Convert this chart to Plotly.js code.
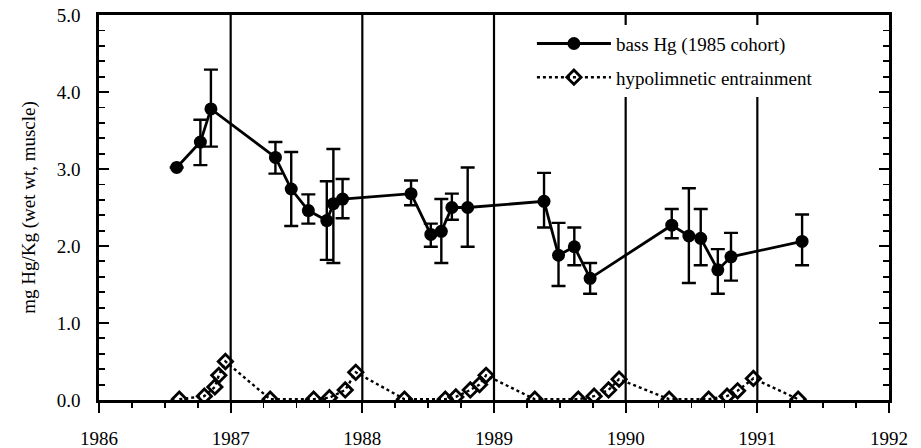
<!DOCTYPE html>
<html>
<head>
<meta charset="utf-8">
<script src="https://cdn.plot.ly/plotly-3.0.1.min.js"></script>
<style>html,body{margin:0;padding:0;background:#fff;}#chart{width:921px;height:448px;}</style>
</head>
<body>
<div id="chart"></div>
<script>
// Bass Hg (1985 cohort)
const bassYear = [1986.59,1986.77,1986.85,1987.34,1987.46,1987.59,1987.73,1987.78,1987.85,
  1988.37,1988.52,1988.60,1988.68,1988.80,1989.38,1989.49,1989.61,1989.73,
  1990.35,1990.48,1990.57,1990.70,1990.80,1991.34];
const bassHg = [3.02,3.35,3.78,3.15,2.74,2.46,2.33,2.55,2.61,
  2.68,2.15,2.19,2.50,2.50,2.58,1.88,1.99,1.58,
  2.27,2.13,2.10,1.69,1.86,2.06];
const bassErrPlus = [0,0.29,0.51,0.20,0.48,0.21,0.51,0.71,0.26,
  0.17,0.14,0.42,0.18,0.52,0.37,0.42,0.25,0.20,
  0.21,0.62,0.38,0.27,0.31,0.35];
const bassErrMinus = [0,0.30,0.49,0.21,0.48,0.17,0.51,0.77,0.25,
  0.15,0.16,0.41,0.16,0.51,0.34,0.40,0.24,0.20,
  0.17,0.61,0.35,0.31,0.31,0.31];

// Hypolimnetic entrainment
const hypoYear = [1986.61,1986.80,1986.88,1986.91,1986.96,1987.30,
  1987.63,1987.75,1987.87,1987.95,1988.32,
  1988.63,1988.71,1988.82,1988.89,1988.94,1989.31,
  1989.64,1989.76,1989.87,1989.95,1990.33,
  1990.63,1990.77,1990.85,1990.97,1991.31];
const hypoVal = [0.01,0.05,0.17,0.32,0.50,0.01,
  0.01,0.03,0.13,0.36,0.01,
  0.01,0.04,0.13,0.20,0.32,0.01,
  0.01,0.05,0.13,0.27,0.01,
  0.01,0.05,0.12,0.28,0.01];

const yearLines = [1987,1988,1989,1990,1991];
const xTickVals = [1986,1987,1988,1989,1990,1991,1992];
const yTickVals = [0,1,2,3,4,5];

const font = "Liberation Serif, Times New Roman, serif";

const traces = [
  {
    x: bassYear, y: bassHg, name: 'bass Hg (1985 cohort)', legendgroup: 'a',
    type: 'scatter', mode: 'lines+markers',
    line: {color: '#000', width: 2.8},
    marker: {symbol: 'circle', size: 13, color: '#000'},
    error_y: {type: 'data', symmetric: false, array: bassErrPlus, arrayminus: bassErrMinus,
      color: '#000', thickness: 2.4, width: 7}
  },
  {
    x: hypoYear, y: hypoVal, name: 'hypolimnetic entrainment', legendgroup: 'b',
    type: 'scatter', mode: 'lines+markers',
    line: {color: '#000', width: 2.4, dash: 'dot'},
    marker: {symbol: 'diamond-open', size: 11, color: '#000', line: {width: 2.8, color: '#000'}}
  }
];

const shapes = yearLines.map(yr => ({
  type: 'line', xref: 'x', yref: 'y', x0: yr, x1: yr, y0: 0, y1: 5,
  line: {color: '#000', width: 2.2}, layer: 'below'
}));

const layout = {
  width: 921, height: 448,
  margin: {l: 99, r: 32, t: 15, b: 48},
  paper_bgcolor: '#fff', plot_bgcolor: '#fff',
  font: {family: font, color: '#000', size: 19},
  showlegend: true,
  legend: {x: 0.548, y: 0.975, xanchor: 'left', yanchor: 'top',
    bgcolor: '#fff', font: {family: font, size: 19, color: '#000'},
    itemwidth: 74, tracegroupgap: 6},
  xaxis: {
    range: [1986, 1992], tickvals: xTickVals, ticktext: xTickVals.map(String),
    showgrid: false, zeroline: false, showline: true, linecolor: '#000', linewidth: 2.8,
    mirror: true, ticks: 'outside', ticklen: 10, tickwidth: 2, tickcolor: '#000',
    minor: {dtick: 0.25, ticks: 'outside', ticklen: 5, tickwidth: 1.8, tickcolor: '#000'},
    tickfont: {family: font, size: 19, color: '#000'}, ticklabelstandoff: 9
  },
  yaxis: {
    range: [0, 5], tickvals: yTickVals, tickformat: '.1f',
    showgrid: false, zeroline: false, showline: true, linecolor: '#000', linewidth: 2.8,
    mirror: 'allticks', ticks: 'inside', ticklen: 10, tickwidth: 2, tickcolor: '#000',
    minor: {dtick: 0.2, ticks: 'inside', ticklen: 6, tickwidth: 1.8, tickcolor: '#000'},
    tickfont: {family: font, size: 19, color: '#000'}, ticklabelstandoff: 12,
    title: {text: 'mg Hg/Kg (wet wt, muscle)', font: {family: font, size: 19, color: '#000'}, standoff: 16}
  },
  shapes: shapes
};

Plotly.newPlot('chart', traces, layout, {displayModeBar: false, staticPlot: true});
</script>
</body>
</html>
